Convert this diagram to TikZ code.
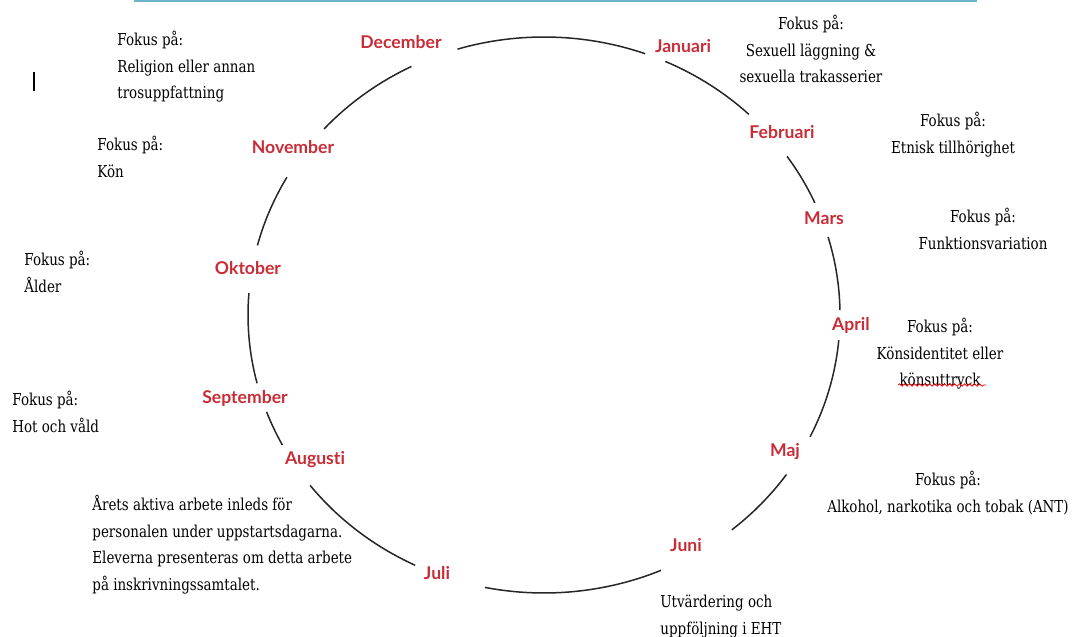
\documentclass[tikz,border=0pt]{standalone}
\usepackage{fontspec}
\setmainfont{DejaVu Serif}[FakeStretch=0.82]
\newfontfamily\monthfont{Lato}[Ligatures={NoCommon}]
\usetikzlibrary{decorations.pathmorphing}
\definecolor{monthred}{RGB}{200,45,55}
\definecolor{topblue}{RGB}{110,180,205}
\tikzset{
  month/.style={font=\monthfont\bfseries\fontsize{8.8}{10}\selectfont, text=monthred, inner sep=0pt},
  focusL/.style={font=\fontsize{8.2}{13.3}\selectfont, align=left, anchor=north west, inner sep=0pt},
  focusC/.style={font=\fontsize{8.2}{13.3}\selectfont, align=center, anchor=north, inner sep=0pt},
  ring/.style={line width=0.75pt, draw=black!85},
  wavy/.style={draw=red, line width=0.4pt, decorate, decoration={snake, amplitude=0.6pt, segment length=2.5pt}},
}
\newcommand\ringseg[2]{\draw[ring] ({544+296*cos(#1)},{-315+278*sin(#1)}) arc[start angle=#1, end angle=#2, x radius=296, y radius=278];}
\begin{document}
\begin{tikzpicture}[x=0.5pt, y=0.5pt]
\useasboundingbox (0,0) rectangle (1078,-637);
% top rule and cursor bar
\coordinate (tl) at (134,-1);
\coordinate (tr) at (977,-1);
\draw[topblue, line width=1pt] (tl) -- (tr);
\coordinate (ca) at (34,-72);
\coordinate (cb) at (34,-91);
\draw[line width=0.6pt] (ca) -- (cb);
% ring segments
\ringseg{116.6}{138}
\ringseg{150.3}{165.5}
\ringseg{175.5}{194.2}
\ringseg{200.4}{207.9}
\ringseg{217.8}{244.2}
\ringseg{258.5}{293.3}
\ringseg{309.4}{325}
\ringseg{334}{354.8}
\ringseg{1}{16.3}
\ringseg{23.8}{34.8}
\ringseg{46.2}{65.8}
\ringseg{70}{107}
% months
\node[month] (dec) at (401,-42) {December};
\node[month] (jan) at (683,-46) {Januari};
\node[month] (feb) at (782,-132) {Februari};
\node[month] (mar) at (824,-218) {Mars};
\node[month] (apr) at (851,-325) {April};
\node[month] (maj) at (785,-452) {Maj};
\node[month] (jun) at (686,-545) {Juni};
\node[month] (jul) at (437,-573) {Juli};
\node[month] (aug) at (315,-460) {Augusti};
\node[month] (sep) at (245,-398) {September};
\node[month] (okt) at (248,-268) {Oktober};
\node[month] (nov) at (293,-147) {November};
% focus texts
\node[focusL] (fdec) at (117,-31) {Fokus på:\\Religion eller annan\\trosuppfattning};
\node[focusL] (fnov) at (97,-136) {Fokus på:\\Kön};
\node[focusL] (fokt) at (24,-251) {Fokus på:\\Ålder};
\node[focusL] (fsep) at (12,-391) {Fokus på:\\Hot och våld};
\node[focusL] (faug) at (92,-495) {Årets aktiva arbete inleds för\\personalen under uppstartsdagarna.\\Eleverna presenteras om detta arbete\\på inskrivningssamtalet.};
\node[focusL] (fjun) at (660,-595) {Utvärdering och\\uppföljning i EHT};
\node[focusC] (fjan) at (811,-15) {Fokus på:\\Sexuell läggning \&\\sexuella trakasserier};
\node[focusC] (ffeb) at (953,-112) {Fokus på:\\Etnisk tillhörighet};
\node[focusC] (fmar) at (983,-208) {Fokus på:\\Funktionsvariation};
\node[focusC] (fapr) at (940,-318) {Fokus på:\\Könsidentitet eller\\könsuttryck};
\node[focusC] (fmaj) at (948,-471) {Fokus på:\\Alkohol, narkotika och tobak (ANT)};
% spelling underline
\coordinate (wa) at (898,-385);
\coordinate (wb) at (986,-385);
\draw[wavy] (wa) -- (wb);
\end{tikzpicture}
\end{document}
